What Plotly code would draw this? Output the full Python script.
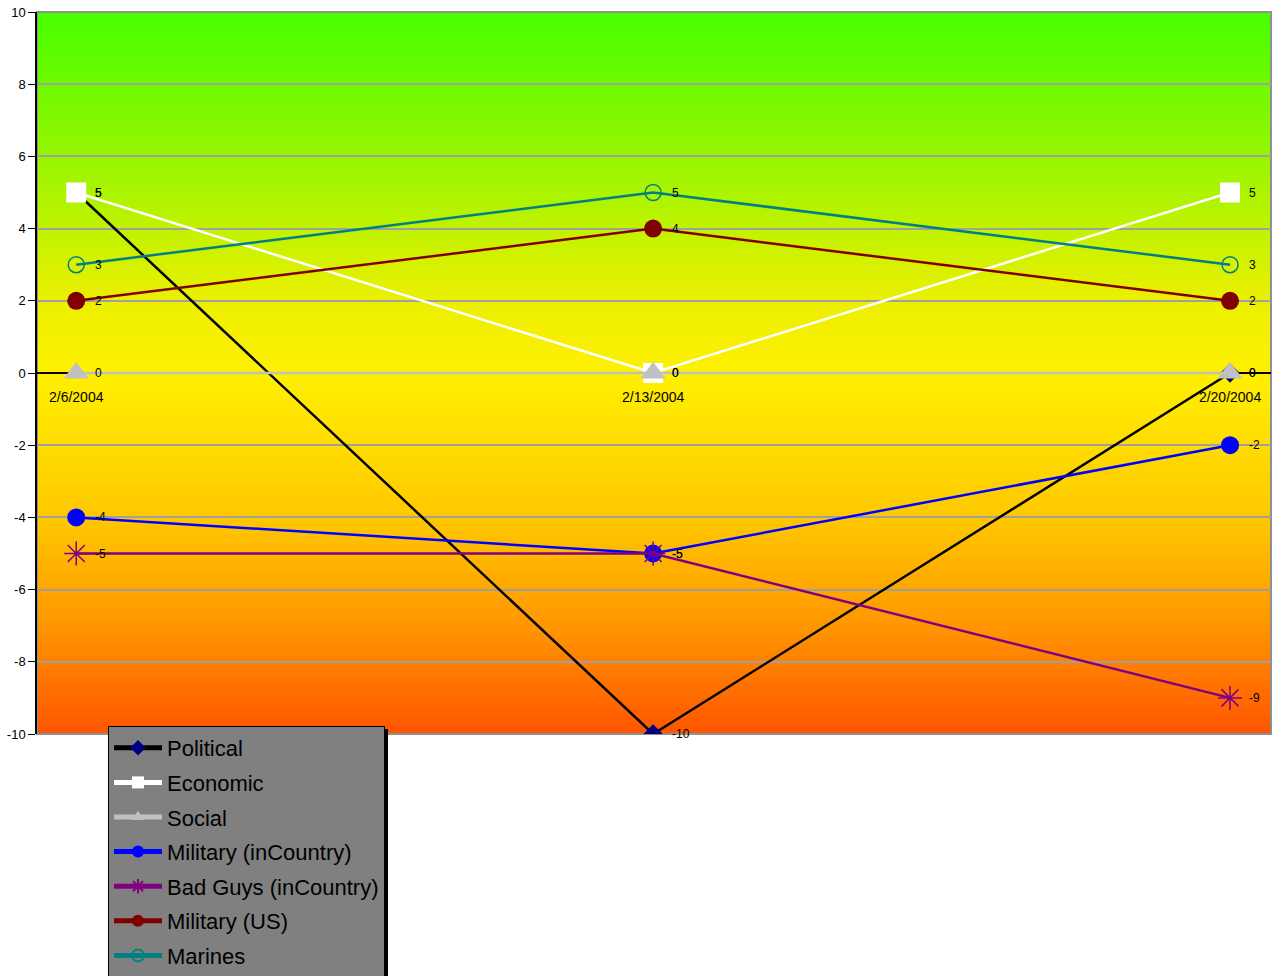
import plotly.graph_objects as go

categories = ["2/6/2004", "2/13/2004", "2/20/2004"]
political = [5, -10, 0]
economic = [5, 0, 5]
social = [0, 0, 0]
military_in = [-4, -5, -2]
bad_guys = [-5, -5, -9]
military_us = [2, 4, 2]
marines = [3, 5, 3]

y_ticks = list(range(-10, 11, 2))
y_ticktext = [str(v) for v in y_ticks]

series = [
    ("Political", political, "#000000", dict(symbol="diamond", size=15, color="#000080")),
    ("Economic", economic, "#FFFFFF", dict(symbol="square", size=20, color="#FFFFFF")),
    ("Social", social, "#C0C0C0", dict(symbol="triangle-up", size=22, color="#C0C0C0")),
    ("Military (inCountry)", military_in, "#0000FF", dict(symbol="circle", size=18, color="#0000FF")),
    ("Bad Guys (inCountry)", bad_guys, "#800080",
     dict(symbol="asterisk-open", size=20, color="#800080", line=dict(color="#800080", width=1.5))),
    ("Military (US)", military_us, "#800000", dict(symbol="circle", size=18, color="#800000")),
    ("Marines", marines, "#008080",
     dict(symbol="circle-open", size=16, color="#008080", line=dict(color="#008080", width=1.5))),
]

fig = go.Figure()
for i, (name, vals, lc, mk) in enumerate(series):
    fig.add_trace(go.Scatter(
        x=categories, y=vals, name=name, mode="lines+markers",
        line=dict(color=lc, width=2.5), marker=mk, legendgroup=f"g{i}",
    ))

# data labels
annotations = []
for name, vals, lc, mk in series:
    for c, v in zip(categories, vals):
        annotations.append(dict(x=c, y=v, xref="x", yref="y", text=str(v), showarrow=False,
                                xanchor="left", yanchor="middle", xshift=17,
                                font=dict(family="Liberation Sans, Arial", size=12, color="black")))

# gradient background
stops = [(0.0, (70, 255, 0)), (0.2, (150, 245, 0)), (0.4, (235, 240, 0)), (0.5, (255, 240, 0)),
         (0.7, (255, 200, 0)), (0.85, (255, 150, 0)), (1.0, (255, 85, 0))]


def col(f):
    for (a, ca), (b, cb) in zip(stops[:-1], stops[1:]):
        if a <= f <= b:
            t = (f - a) / (b - a)
            return "rgb(%d,%d,%d)" % tuple(round(ca[k] + (cb[k] - ca[k]) * t) for k in range(3))
    return "rgb(%d,%d,%d)" % stops[-1][1]


shapes = []
n = 361
ymin, ymax = -10, 10
step = (ymax - ymin) / n
for i in range(n):
    y1 = ymax - i * step
    y0 = y1 - step * 1.05
    shapes.append(dict(type="rect", xref="paper", yref="y", x0=0, x1=1, y0=max(y0, ymin), y1=y1,
                       fillcolor=col((i + 0.5) / n), line=dict(width=0), layer="below"))
# plot border
shapes.append(dict(type="rect", xref="paper", yref="paper", x0=0, x1=1, y0=0, y1=1,
                   line=dict(color="#909090", width=2), fillcolor="rgba(0,0,0,0)", layer="between"))
# legend shadow
shapes.append(dict(type="rect", xref="paper", yref="paper",
                   x0=(111 - 37) / 1234, x1=(388 - 37) / 1234,
                   y0=(734 - 980) / 722, y1=(734 - 729) / 722,
                   fillcolor="black", line=dict(width=0), layer="above"))

fig.update_layout(
    width=1273, height=976,
    margin=dict(l=37, r=2, t=12, b=242, autoexpand=False),
    paper_bgcolor="white", plot_bgcolor="white",
    font=dict(family="Liberation Sans, Arial", color="black"),
    shapes=shapes, annotations=annotations,
    showlegend=True,
    legend=dict(x=(108 - 37) / 1234, y=(734 - 726) / 722, xanchor="left", yanchor="top",
                bgcolor="#808080", bordercolor="black", borderwidth=1,
                font=dict(family="Liberation Sans, Arial", size=22, color="black"),
                tracegroupgap=3, itemsizing="constant", itemwidth=48, traceorder="grouped"),
    xaxis=dict(type="category", range=[-0.068, 2.071], showgrid=False, zeroline=False,
               showline=True, linecolor="black", linewidth=1.5, anchor="free", position=0.5,
               ticks="outside", ticklen=11, tickcolor="rgba(0,0,0,0)",
               tickfont=dict(size=14), layer="below traces"),
    yaxis=dict(range=[-10, 10], tickvals=y_ticks, ticktext=y_ticktext, showgrid=True,
               gridcolor="#A0A0A0", gridwidth=1.5,
               zeroline=False, showline=True, linecolor="black", linewidth=1.5,
               ticks="outside", ticklen=7, tickcolor="black", tickfont=dict(size=13)),
)

fig.write_html("out.html")
